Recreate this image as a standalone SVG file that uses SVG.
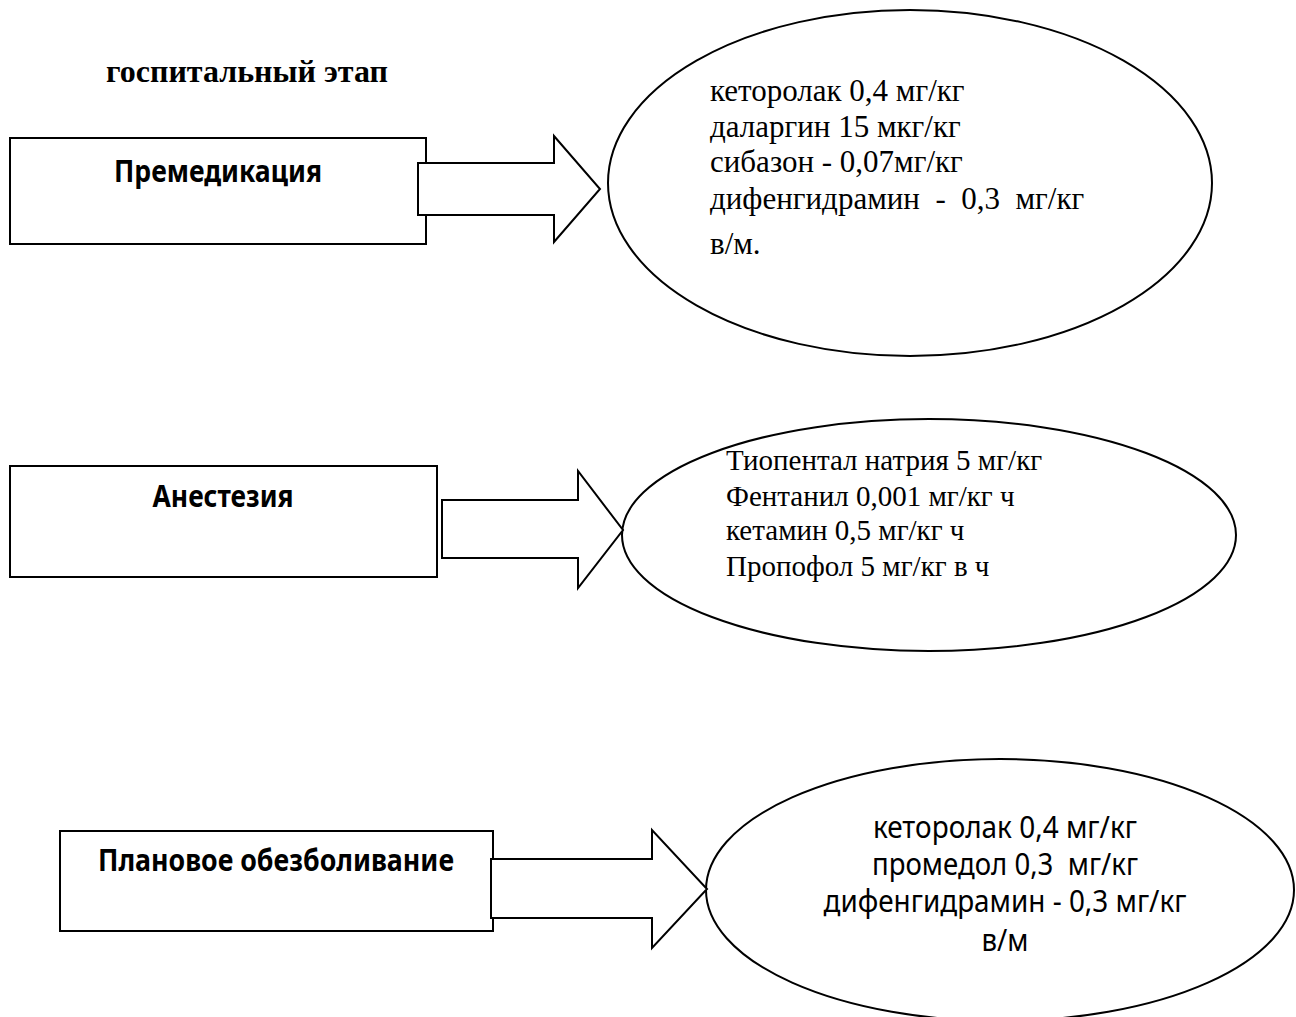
<svg xmlns="http://www.w3.org/2000/svg" width="1296" height="1017" viewBox="0 0 1296 1017">
<style>
.box{fill:#fff;stroke:#000;stroke-width:2}
.ell{fill:#fff;stroke:#000;stroke-width:2}
.arr{fill:#fff;stroke:#000;stroke-width:2;stroke-linejoin:miter}
.title{font-family:"Liberation Serif","Times New Roman",serif;font-weight:bold;font-size:32px;fill:#000}
.lbl{font-family:"Noto Sans","Open Sans",sans-serif;font-weight:bold;font-size:31px;fill:#000}
.ser{font-family:"Liberation Serif","Times New Roman",serif;font-size:31px;fill:#000}
.ser2{font-family:"Liberation Serif","Times New Roman",serif;font-size:29px;fill:#000}
.san{font-family:"Noto Sans","Open Sans",sans-serif;font-size:30px;fill:#000}
</style>
<rect width="1296" height="1017" fill="#fff"/>
<text class="title" x="106" y="82">госпитальный этап</text>

<g id="node-premed">
<rect class="box" x="10" y="138" width="416" height="106"/>
<text class="lbl" x="218" y="182" text-anchor="middle" textLength="208" lengthAdjust="spacingAndGlyphs">Премедикация</text>
</g>
<g id="node-premed-drugs">
<ellipse class="ell" cx="910" cy="183" rx="302" ry="173"/>
<text class="ser" x="710" y="101">кеторолак 0,4 мг/кг</text>
<text class="ser" x="710" y="137">даларгин 15 мкг/кг</text>
<text class="ser" x="710" y="172">сибазон - 0,07мг/кг</text>
<text class="ser" x="710" y="209" xml:space="preserve">дифенгидрамин  -  0,3  мг/кг</text>
<text class="ser" x="710" y="254">в/м.</text>
</g>

<g id="node-anest">
<rect class="box" x="10" y="466" width="427" height="111"/>
<text class="lbl" x="223" y="507" text-anchor="middle" textLength="141" lengthAdjust="spacingAndGlyphs">Анестезия</text>
</g>
<g id="node-anest-drugs">
<ellipse class="ell" cx="929" cy="535" rx="307" ry="116"/>
<text class="ser2" x="726" y="470">Тиопентал натрия 5 мг/кг</text>
<text class="ser2" x="726" y="506">Фентанил 0,001 мг/кг ч</text>
<text class="ser2" x="726" y="540">кетамин 0,5 мг/кг ч</text>
<text class="ser2" x="726" y="576">Пропофол 5 мг/кг в ч</text>
</g>

<g id="node-plan">
<rect class="box" x="60" y="831" width="433" height="100"/>
<text class="lbl" x="276" y="871" text-anchor="middle" textLength="356" lengthAdjust="spacingAndGlyphs">Плановое обезболивание</text>
</g>
<g id="node-plan-drugs">
<ellipse class="ell" cx="1000" cy="890" rx="294" ry="131"/>
<text class="san" x="1005" y="838" text-anchor="middle" textLength="264" lengthAdjust="spacingAndGlyphs">кеторолак 0,4 мг/кг</text>
<text class="san" x="1005" y="875" text-anchor="middle" textLength="266" lengthAdjust="spacingAndGlyphs" xml:space="preserve">промедол 0,3  мг/кг</text>
<text class="san" x="1005" y="912" text-anchor="middle" textLength="363" lengthAdjust="spacingAndGlyphs">дифенгидрамин - 0,3 мг/кг</text>
<text class="san" x="1005" y="951" text-anchor="middle" textLength="47" lengthAdjust="spacingAndGlyphs">в/м</text>
</g>

<g id="connectors">
<polygon class="arr" points="418,163 554,163 554,136 600,189 554,242 554,215 418,215"/>
<polygon class="arr" points="442,500 578,500 578,471 623,530 578,588 578,558 442,558"/>
<polygon class="arr" points="491,859 652,859 652,830 707,889 652,948 652,918 491,918"/>
</g>
</svg>
